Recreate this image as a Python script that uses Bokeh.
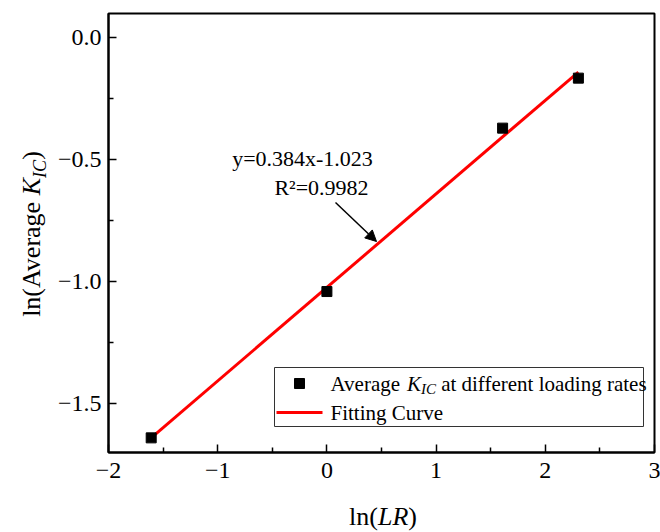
import math
from bokeh.plotting import figure
from bokeh.layouts import row, column
from bokeh.models import (Range1d, FixedTicker, CustomJSTickFormatter, Label, BoxAnnotation,
                          Arrow, NormalHead, Div)
from bokeh.embed import file_html
from bokeh.resources import INLINE

# ---------------- data ----------------
ln_lr = [-1.609, 0.0, 1.609, 2.303]
ln_kic = [-1.64, -1.04, -0.37, -0.165]
fit_x = [-1.609, 2.303]
fit_y = [-1.64, -0.14]

x_ticks = [-2, -1, 0, 1, 2, 3]
x_labels = ["\u22122", "\u22121", "0", "1", "2", "3"]
x_minor = [-1.5, -0.5, 0.5, 1.5, 2.5]
y_ticks = [0.0, -0.5, -1.0, -1.5]
y_labels = ["0.0", "\u22120.5", "\u22121.0", "\u22121.5"]
y_minor = [-0.25, -0.75, -1.25]

eq_text = "y=0.384x-1.023"
r2_text = "R\u00b2=0.9982"
x_title_html = "ln(<i>LR</i>)"
y_title_html = "ln(Average <i>K</i><sub style='font-size:0.7em'><i>IC</i></sub>)"

X0, X1 = -2.0, 3.0
Y0, Y1 = -1.7, 0.1

# ---------------- layout (page pixels) ----------------
W, H = 660, 532
YT_W = 50          # width of the y-title strip
XT_H = 40          # height of the x-title strip
FL, FR, FT, FB = 108, 654, 13, 452   # frame edges in page px
BASE_FIX = 7       # Label alphabetic baseline correction

def dx(px):
    return X0 + (px - FL) * (X1 - X0) / (FR - FL)

def dy(py):
    return Y1 - (py - FT) * (Y1 - Y0) / (FB - FT)

SERIF = "Liberation Serif"

p = figure(width=W - YT_W, height=H - XT_H, output_backend="svg", toolbar_location=None,
           x_range=Range1d(X0, X1), y_range=Range1d(Y0, Y1),
           min_border_left=FL - YT_W, min_border_right=W - FR, min_border_top=FT,
           min_border_bottom=H - XT_H - FB)
p.grid.visible = False
p.outline_line_color = "black"
p.outline_line_width = 2
p.background_fill_color = "white"
p.border_fill_color = "white"

fmt_code = """
const i = tvals.findIndex(t => Math.abs(t - tick) < 1e-9);
return i >= 0 ? tlabels[i] : '';
"""
for ax, ticks, labels, minor, standoff in ((p.xaxis[0], x_ticks, x_labels, x_minor, 10),
                                           (p.yaxis[0], y_ticks, y_labels, y_minor, 7)):
    ax.ticker = FixedTicker(ticks=ticks, minor_ticks=minor)
    ax.formatter = CustomJSTickFormatter(args=dict(tvals=ticks, tlabels=labels), code=fmt_code)
    ax.axis_line_width = 2
    ax.axis_line_color = "black"
    ax.major_tick_in = 8
    ax.major_tick_out = 0
    ax.minor_tick_in = 5
    ax.minor_tick_out = 0
    ax.major_tick_line_width = 1.5
    ax.minor_tick_line_width = 1.5
    ax.major_label_text_font = SERIF
    ax.major_label_text_font_size = "24px"
    ax.major_label_text_color = "black"
    ax.major_label_standoff = standoff

fit = p.line(fit_x, fit_y, line_color="#ff0000", line_width=3)
pts = p.scatter(ln_lr, ln_kic, marker="square", size=10, fill_color="black", line_color="black")

# ---------------- legend (drawn as annotations) ----------------
p.add_layout(BoxAnnotation(left=dx(274), right=dx(643), top=dy(367), bottom=dy(426),
                           fill_color="white", fill_alpha=1.0, line_color="#333333",
                           line_width=1, line_alpha=1.0, line_dash="solid", level="underlay"))
p.add_layout(BoxAnnotation(left=dx(294), right=dx(304), top=dy(378), bottom=dy(388),
                           fill_color="black", fill_alpha=1.0, line_color="black",
                           line_alpha=1.0, line_dash="solid"))
p.add_layout(BoxAnnotation(left=dx(276), right=dx(322), top=dy(410.5), bottom=dy(413.5),
                           fill_color="#ff0000", fill_alpha=1.0, line_alpha=0.0))


def rich(pieces, x_px, y_px):
    """pieces: (text, size, italic, baseline_shift_px, advance_px)"""
    pos = 0.0
    for text, size, italic, shift, adv in pieces:
        p.add_layout(Label(x=dx(x_px + pos), y=dy(y_px + shift - BASE_FIX), text=text,
                           text_font=SERIF, text_font_size=f"{size}px",
                           text_font_style="italic" if italic else "normal",
                           text_align="left", text_baseline="alphabetic",
                           text_color="black"))
        pos += adv


LS = 21
rich([("Average", LS, False, 0, 3.637 * LS),
      ("K", LS, True, 0, 0.667 * LS),
      ("IC", 15, True, 5, 1.0 * 15 + 0.25 * LS),
      ("at different loading rates", LS, False, 0, 0)], 330, 390)
rich([("Fitting Curve", LS, False, 0, 0)], 330, 419)

# ---------------- equation annotation ----------------
for txt, cx, by in ((eq_text, 302, 165), (r2_text, 321, 194)):
    p.add_layout(Label(x=dx(cx), y=dy(by - BASE_FIX), text=txt, text_font=SERIF,
                       text_color="black", text_font_size="22px", text_align="center",
                       text_baseline="alphabetic"))
p.add_layout(Arrow(end=NormalHead(size=11, fill_color="black", line_color="black"),
                   x_start=dx(335), y_start=dy(202), x_end=dx(376), y_end=dy(241),
                   line_color="black", line_width=1.5))

# ---------------- axis titles (rich text strips) ----------------
TS = 26
font_css = f"font-family:'{SERIF}'; font-size:{TS}px; color:black; white-space:nowrap; line-height:1;"
ydiv = Div(width=YT_W, height=H - XT_H, margin=0,
           text=(f"<div style=\"position:relative; width:{YT_W}px; height:{H - XT_H}px;\">"
                 f"<div style=\"position:absolute; left:34px; top:234px; "
                 f"transform:translate(-50%,-50%) rotate(-90deg); {font_css}\">"
                 f"{y_title_html}</div></div>"))
xdiv = Div(width=W, height=XT_H, margin=0,
           text=(f"<div style=\"position:relative; width:{W}px; height:{XT_H}px;\">"
                 f"<div style=\"position:absolute; left:383px; top:25px; "
                 f"transform:translate(-50%,-50%); {font_css}\">"
                 f"{x_title_html}</div></div>"))

layout = column(row(ydiv, p, spacing=0), xdiv, spacing=0)

open("out.html", "w").write(file_html(layout, INLINE))
